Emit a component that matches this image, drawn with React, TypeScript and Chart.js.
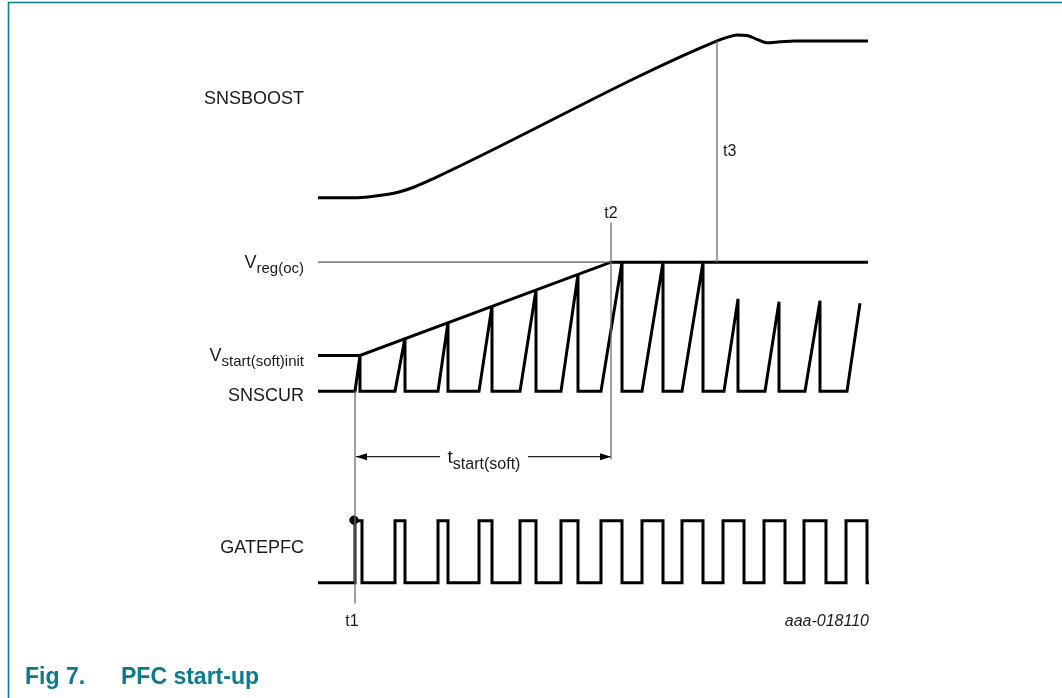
import React, { useEffect, useRef } from "react";
import { Chart, registerables } from "chart.js";

Chart.register(...registerables);

// ---- time axis: arbitrary time units (0 .. 110) ----
const T_MIN = 0;
const T_MAX = 110;
const Y_MIN = -19.6;
const Y_MAX = 115;

// SNSBOOST (boost voltage) trace
const BOOST_T = [0, 7.4, 10.4, 13.4, 16.4, 19.4, 23, 79.8, 81.8, 83.8, 85.8, 87.8, 89.8, 92.4, 95.4, 110];
const BOOST_V = [80.2, 80.2, 80.4, 80.8, 81.4, 82.4, 84, 111.8, 112.5, 113, 112.9, 112.1, 111.4, 111.6, 111.8, 111.8];

// levels
const LEVEL_VSTART = 48.4;
const LEVEL_VREG = 67.2;
const LEVEL_CUR_BASE = 41.2;
const GATE_LOW = 2.6;
const GATE_HIGH = 15.1;

// soft-start envelope (Vstart(soft)init -> Vreg(oc))
const ENV_T = [0, 8.4, 58.6, 110];
const ENV_V = [LEVEL_VSTART, LEVEL_VSTART, LEVEL_VREG, LEVEL_VREG];

// SNSCUR sawtooth
const CUR_RISE = [7.4, 15.4, 24, 32.2, 40.4, 48.6, 56.6, 64.8, 72.8, 81.2, 89.4, 97.4, 105.8];
const CUR_PEAK_T = [8.4, 17.4, 26, 34.8, 43.6, 52, 60.8, 69, 77, 84, 92.2, 100.4, 108.4];
const CUR_PEAK_V = [48.4, 51.9, 55.1, 58.4, 61.6, 64.7, 67.2, 67.2, 67.2, 59.8, 59.2, 59.4, 58.9];

// GATEPFC pulses
const GATE_RISE = [7.4, 15.4, 24, 32.2, 40.4, 48.6, 56.6, 64.8, 72.8, 81, 89.2, 97.2, 105.6];
const GATE_FALL = [8.8, 17.4, 26, 34.8, 43.6, 52, 60.8, 69, 77, 85.2, 93.4, 101.6, 109.8];
const GATE_END = 110.2;

// time markers
const MARK_NAMES = ["t1", "t2", "t3"];
const MARK_T = [7.4, 58.6, 79.8];
const MARK_TOP = [41.2, 75.2, 111.8];
const MARK_BOTTOM = [-1.6, 27.4, 67.2];
const MARK_LABEL_T = [6.8, 58.6, 81];
const MARK_LABEL_V = [-5, 77.3, 89.8];

// tstart(soft) dimension arrow
const ARROW_T = [7.6, 58.6];
const ARROW_V = 28;
const ARROW_GAP = [24.4, 42];

// t1 dot on GATEPFC
const DOT_T = 7.2;
const DOT_V = 15.2;

// signal labels
const LABEL_MAIN = ["SNSBOOST", "V", "V", "SNSCUR", "GATEPFC"];
const LABEL_SUB = ["", "reg(oc)", "start(soft)init", "", ""];
const LABEL_V = [100.4, 67.4, 48.6, 40.6, 9.9];
const LABEL_RIGHT_T = -2.8;

const TEAL = "#0b7a8c";
const FONT = '"Liberation Sans", Arial, Helvetica, sans-serif';

function pts(xs: number[], ys: number[]) {
  return xs.map((x, i) => ({ x, y: ys[i] }));
}

function buildCur() {
  const out: { x: number; y: number }[] = [{ x: T_MIN, y: LEVEL_CUR_BASE }];
  CUR_RISE.forEach((r, i) => {
    out.push({ x: r, y: LEVEL_CUR_BASE });
    out.push({ x: CUR_PEAK_T[i], y: CUR_PEAK_V[i] });
    if (i < CUR_RISE.length - 1) out.push({ x: CUR_PEAK_T[i], y: LEVEL_CUR_BASE });
  });
  return out;
}

function buildGate() {
  const out: { x: number; y: number }[] = [{ x: T_MIN, y: GATE_LOW }];
  GATE_RISE.forEach((r, i) => {
    out.push({ x: r, y: GATE_LOW });
    out.push({ x: r, y: GATE_HIGH });
    out.push({ x: GATE_FALL[i], y: GATE_HIGH });
    out.push({ x: GATE_FALL[i], y: GATE_LOW });
  });
  out.push({ x: GATE_END, y: GATE_LOW });
  return out;
}

function drawSub(
  ctx: CanvasRenderingContext2D,
  main: string,
  sub: string,
  x: number,
  yMid: number,
  align: "left" | "right" | "center",
  mainSize: number,
  subSize: number
) {
  ctx.font = `${mainSize}px ${FONT}`;
  const wm = ctx.measureText(main).width;
  ctx.font = `${subSize}px ${FONT}`;
  const ws = sub ? ctx.measureText(sub).width : 0;
  const total = wm + ws;
  let x0 = x;
  if (align === "right") x0 = x - total;
  else if (align === "center") x0 = x - total / 2;
  const base = yMid + mainSize * 0.36;
  ctx.textAlign = "left";
  ctx.textBaseline = "alphabetic";
  ctx.font = `${mainSize}px ${FONT}`;
  ctx.fillText(main, x0, base);
  if (sub) {
    ctx.font = `${subSize}px ${FONT}`;
    ctx.fillText(sub, x0 + wm, base + subSize * 0.36);
  }
  return { x0, total };
}

const overlay = {
  id: "overlay",
  afterDatasetsDraw(chart: any) {
    const ctx: CanvasRenderingContext2D = chart.ctx;
    const xs = chart.scales.x;
    const ys = chart.scales.y;
    const X = (v: number) => xs.getPixelForValue(v);
    const Y = (v: number) => ys.getPixelForValue(v);
    ctx.save();

    // frame
    ctx.strokeStyle = TEAL;
    ctx.lineWidth = 1.6;
    ctx.beginPath();
    ctx.moveTo(8.5, chart.height);
    ctx.lineTo(8.5, 2.5);
    ctx.lineTo(chart.width, 2.5);
    ctx.stroke();

    // signal labels
    ctx.fillStyle = "#1a1a1a";
    LABEL_MAIN.forEach((m, i) => {
      drawSub(ctx, m, LABEL_SUB[i], X(LABEL_RIGHT_T), Y(LABEL_V[i]), "right", 18, 15);
    });

    // time marker labels
    MARK_NAMES.forEach((n, i) => {
      const align = i === 2 ? "left" : "center";
      drawSub(ctx, n, "", X(MARK_LABEL_T[i]), Y(MARK_LABEL_V[i]), align as any, 16, 12);
    });

    // arrow heads
    const ay = Y(ARROW_V);
    const xl = X(ARROW_T[0]);
    const xr = X(ARROW_T[1]);
    ctx.fillStyle = "#000";
    ctx.beginPath();
    ctx.moveTo(xl, ay);
    ctx.lineTo(xl + 11, ay - 3.5);
    ctx.lineTo(xl + 11, ay + 3.5);
    ctx.closePath();
    ctx.fill();
    ctx.beginPath();
    ctx.moveTo(xr, ay);
    ctx.lineTo(xr - 11, ay - 3.5);
    ctx.lineTo(xr - 11, ay + 3.5);
    ctx.closePath();
    ctx.fill();

    // tstart(soft) label
    ctx.fillStyle = "#1a1a1a";
    drawSub(ctx, "t", "start(soft)", (X(ARROW_GAP[0]) + X(ARROW_GAP[1])) / 2, ay, "center", 19, 16);

    // figure id
    ctx.font = `italic 16px ${FONT}`;
    ctx.textAlign = "right";
    ctx.textBaseline = "middle";
    ctx.fillText("aaa-018110", X(GATE_END), Y(-5.2));

    // caption
    ctx.fillStyle = TEAL;
    ctx.font = `bold 23px ${FONT}`;
    ctx.textAlign = "left";
    ctx.textBaseline = "alphabetic";
    ctx.fillText("Fig 7.", 25, 684);
    ctx.fillText("PFC start-up", 121, 684);

    ctx.restore();
  },
};

export default function App() {
  const ref = useRef<HTMLCanvasElement>(null);
  useEffect(() => {
    document.body.style.margin = "0";
    const canvas = ref.current!;
    const thick = { borderColor: "#000", borderWidth: 3, pointRadius: 0, showLine: true, borderJoinStyle: "miter" as const, borderCapStyle: "butt" as const };
    const thin = { borderColor: "#6e6e6e", borderWidth: 1.3, pointRadius: 0, showLine: true };

    const arrowData = [
      { x: ARROW_T[0], y: ARROW_V },
      { x: ARROW_GAP[0], y: ARROW_V },
      { x: ARROW_GAP[0], y: null },
      { x: ARROW_GAP[1], y: ARROW_V },
      { x: ARROW_T[1], y: ARROW_V },
    ];

    const markerSets = MARK_T.map((t, i) => ({
      ...thin,
      label: MARK_NAMES[i],
      data: [
        { x: t, y: MARK_TOP[i] },
        { x: t, y: MARK_BOTTOM[i] },
      ],
    }));

    const chart = new Chart(canvas, {
      type: "scatter",
      data: {
        datasets: [
          { ...thin, label: "Vreg ref", borderColor: "#555", borderWidth: 1.1, data: [{ x: T_MIN, y: LEVEL_VREG }, { x: ENV_T[2], y: LEVEL_VREG }] },
          ...markerSets,
          { ...thin, label: "tstart(soft)", borderColor: "#222", borderWidth: 1.1, spanGaps: false, data: arrowData as any },
          { ...thick, label: "SNSBOOST", cubicInterpolationMode: "monotone", data: pts(BOOST_T, BOOST_V) },
          { ...thick, label: "envelope", data: pts(ENV_T, ENV_V) },
          { ...thick, label: "SNSCUR", data: buildCur() },
          { ...thick, label: "GATEPFC", data: buildGate() },
          { label: "t1 dot", data: [{ x: DOT_T, y: DOT_V }], pointRadius: 4.2, pointBackgroundColor: "#000", pointBorderColor: "#000", showLine: false },
        ] as any,
      },
      options: {
        responsive: false,
        animation: false,
        devicePixelRatio: 1,
        layout: { padding: { left: 318, right: 194, top: 25, bottom: 0 } },
        plugins: { legend: { display: false }, tooltip: { enabled: false } },
        events: [],
        scales: {
          x: { type: "linear", min: T_MIN, max: T_MAX, display: false },
          y: { type: "linear", min: Y_MIN, max: Y_MAX, display: false },
        },
        elements: { line: { tension: 0 } },
        datasets: { scatter: { clip: false } } as any,
      },
      plugins: [overlay],
    });
    return () => chart.destroy();
  }, []);
  return <canvas ref={ref} width={1062} height={698} style={{ display: "block" }} />;
}
